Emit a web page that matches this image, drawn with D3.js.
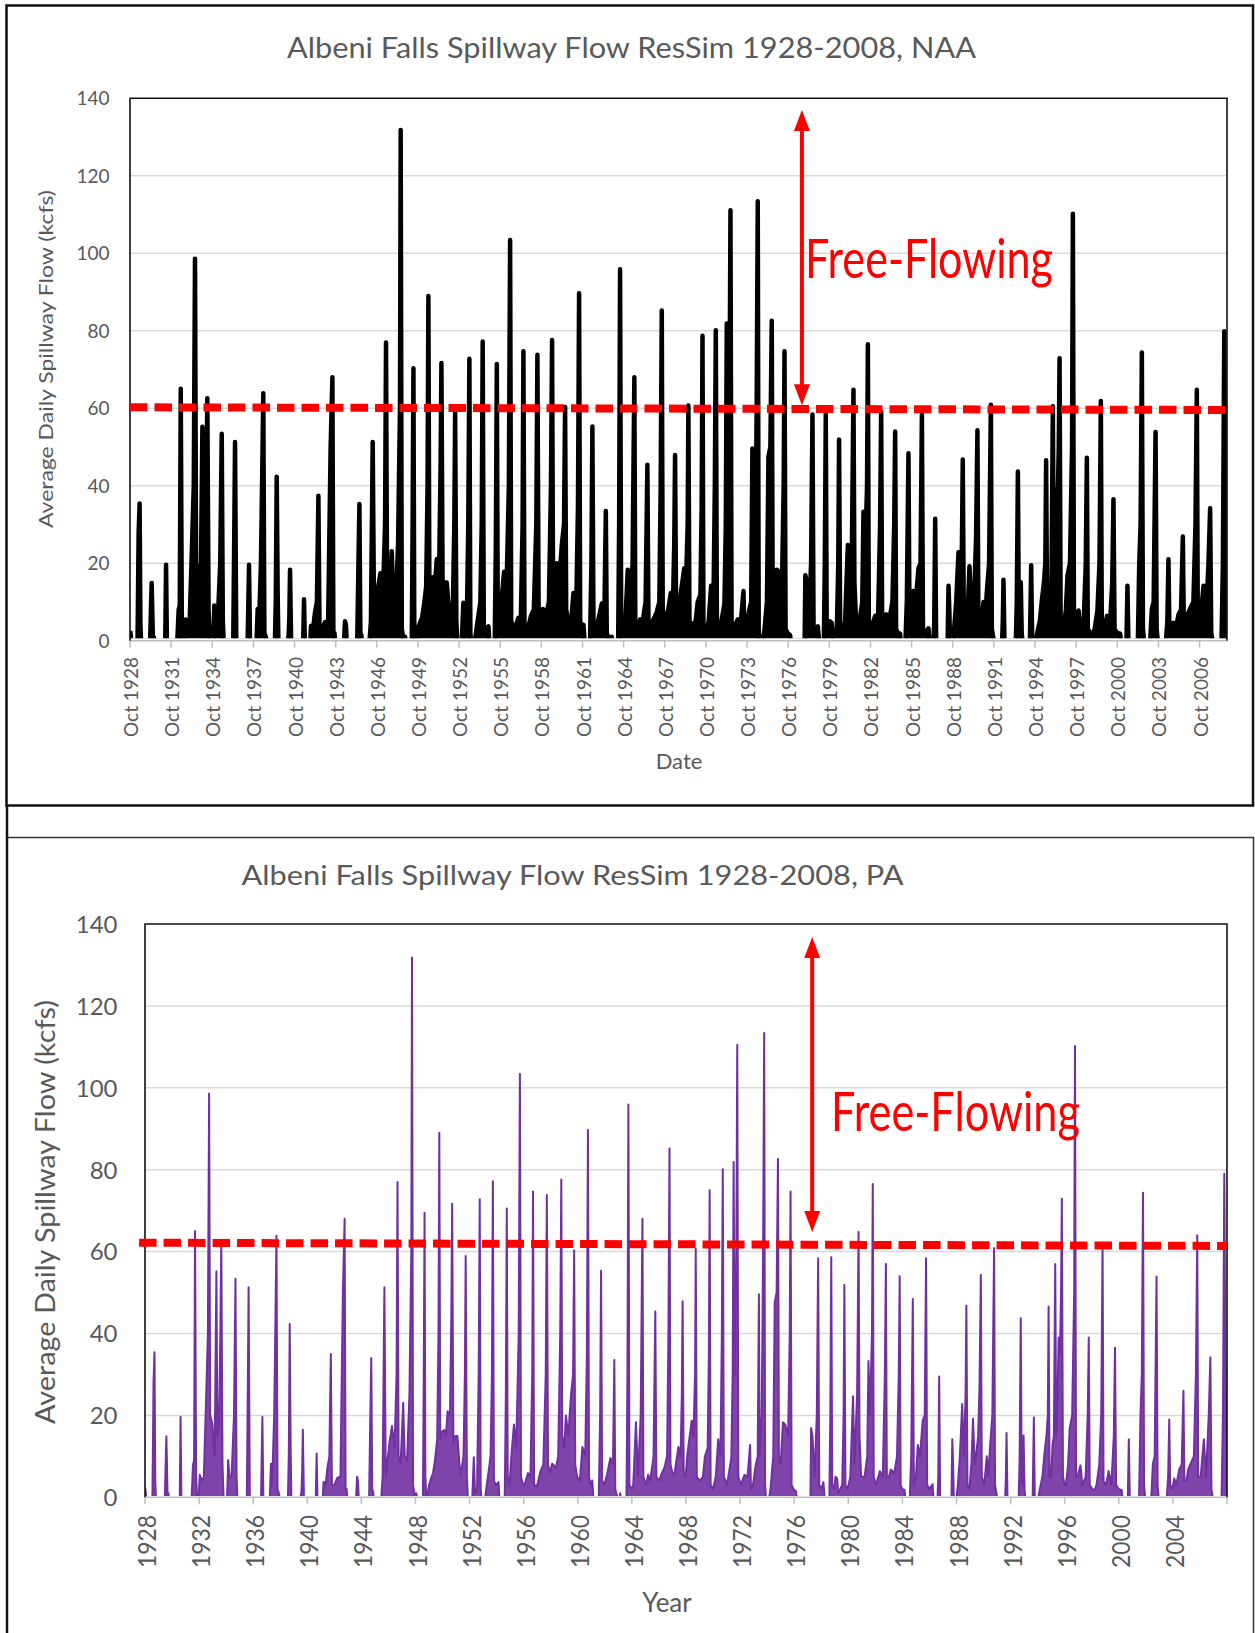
<!DOCTYPE html>
<html><head><meta charset="utf-8">
<script src="https://cdn.jsdelivr.net/npm/d3@7"></script>
<style>
body{margin:0;background:#fff}
svg{display:block}
text{font-family:Lato,"Open Sans",sans-serif}
</style>
</head><body>
<svg id="c" width="1255" height="1633"></svg>
<script>
// ---------------- DATA (year as decimal, flow in kcfs) ----------------
const naaA = [[1928.75,2.5],[1928.8,1.5],[1928.84,0],
[1929.3,0],[1929.38,28],[1929.45,35.4],[1929.51,4],[1929.56,0],
[1930.22,0],[1930.29,10],[1930.33,14.9],[1930.38,7],[1930.42,0],[1930.48,1],[1930.52,0],
[1931.32,0],[1931.38,19.6],[1931.44,0],
[1932.2,0],[1932.3,8],[1932.38,9],[1932.45,65],[1932.53,5],[1932.6,0],
[1932.72,0],[1932.8,5.5],[1932.95,4],[1933.1,5],[1933.25,22],[1933.4,40],[1933.49,98.6],[1933.57,20],[1933.73,18],[1933.9,10],[1934.03,55.2],[1934.1,15],[1934.22,18],[1934.32,40],[1934.39,62.6],[1934.48,8],[1934.56,0],
[1934.82,0],[1934.9,9.1],[1935.0,5],[1935.15,5],[1935.33,20],[1935.44,53.4],[1935.52,5],[1935.58,0],
[1936.28,0],[1936.36,30],[1936.41,51.3],[1936.5,0],
[1937.33,0],[1937.43,19.6],[1937.5,0],
[1937.98,0],[1938.06,8.2],[1938.15,3],[1938.3,20],[1938.4,45],[1938.47,63.9],[1938.55,2],[1938.65,1],[1938.7,0],
[1939.32,0],[1939.38,10],[1939.45,42.3],[1939.52,12],[1939.57,0],
[1940.25,0],[1940.32,1.5],[1940.37,6],[1940.42,18.3],[1940.5,0]];

const naaB = [[1941.38,0],[1941.44,10.7],[1941.5,0],
[1941.9,0],[1941.95,3.8],[1942.1,3],[1942.24,7.3],[1942.38,10],[1942.49,37.4],[1942.57,3],[1942.75,3],[1942.97,4.8],[1943.2,5],[1943.38,49.8],[1943.51,68],[1943.58,2],[1943.66,2],[1943.7,0],
[1944.36,0],[1944.43,5],[1944.5,4],[1944.55,0],
[1945.32,0],[1945.4,17.8],[1945.48,35.3],[1945.55,2],[1945.62,1.4],[1945.66,0],
[1946.22,0],[1946.32,5],[1946.45,51.3],[1946.55,5],[1946.82,13.2],[1947.01,17.4],[1947.2,12],[1947.35,30],[1947.42,77],[1947.5,10],[1947.65,8],[1947.84,23.1],[1947.95,10],[1948.13,9.1],[1948.3,25],[1948.44,60],[1948.49,131.8],[1948.57,3],[1948.65,1.4],[1948.72,0],
[1948.78,0],[1948.81,1],[1948.86,0],
[1949.3,0],[1949.36,30],[1949.42,70.3],[1949.48,5],[1949.55,0],
[1949.62,0],[1949.75,3],[1949.9,4.6],[1950.05,6],[1950.19,9.1],[1950.35,14],[1950.45,40],[1950.51,89],[1950.58,14],[1950.7,16],[1950.87,16.4],[1951.0,15],[1951.12,21],[1951.3,20],[1951.4,45],[1951.46,71.7],[1951.55,13],[1951.7,15],[1951.85,15],[1952.0,8],[1952.09,5.5],[1952.3,10],[1952.4,30],[1952.46,58.9],[1952.55,5],[1952.62,0]];

const naaC = [[1952.95,0],[1953.06,9.8],[1953.15,1],[1953.3,2],[1953.42,30],[1953.5,72.8],[1953.57,2],[1953.62,0],
[1953.9,0],[1954.1,5],[1954.16,6.4],[1954.3,10],[1954.4,30],[1954.47,77.2],[1954.55,4],[1954.7,3],[1954.89,3.7],[1954.95,0],
[1955.35,0],[1955.43,25],[1955.5,71.4],[1955.57,5],[1955.7,3],[1955.86,11],[1956.03,17.8],[1956.2,12],[1956.38,40],[1956.47,103.4],[1956.55,5],[1956.7,3],[1956.82,3.2],[1957.07,5.9],[1957.25,5],[1957.38,30],[1957.44,74.7],[1957.52,3],[1957.74,2.7],[1957.99,6.4],[1958.2,8],[1958.38,30],[1958.46,73.8],[1958.55,8],[1958.7,6],[1958.85,8.2],[1959.14,7.3],[1959.3,10],[1959.45,40],[1959.53,77.6],[1959.6,15],[1959.75,12],[1959.87,20],[1960.05,15],[1960.24,24.7],[1960.4,30],[1960.48,60.3],[1960.56,8],[1960.7,5],[1960.9,4],[1961.09,12.3],[1961.3,10],[1961.42,35],[1961.5,89.7],[1961.58,5],[1961.7,3],[1961.82,4.1],[1961.9,0],
[1962.3,0],[1962.4,20],[1962.47,55.3],[1962.55,4],[1962.7,3],[1962.91,5.5],[1963.16,9.6],[1963.35,8],[1963.45,33.5],[1963.52,2],[1963.6,1],[1963.7,0],
[1963.85,0],[1963.88,1],[1963.92,0],
[1964.35,0],[1964.42,30],[1964.49,95.9],[1964.57,3],[1964.7,2]];

const naaD = [[1964.85,3],[1965.05,18.3],[1965.2,5],[1965.4,20],[1965.53,68],[1965.6,5],[1965.8,3],[1965.95,5.5],[1966.1,4],[1966.35,10],[1966.48,45.4],[1966.56,5],[1966.75,4],[1966.92,5.5],[1967.16,7.3],[1967.35,10],[1967.45,40],[1967.53,85.2],[1967.6,8],[1967.75,6],[1967.89,5.5],[1968.19,12.3],[1968.35,10],[1968.44,25],[1968.5,47.9],[1968.58,6],[1968.72,5],[1968.87,11],[1969.17,18.7],[1969.3,15],[1969.42,30],[1969.47,60.7],[1969.55,5],[1969.75,4],[1970.0,5],[1970.15,10],[1970.35,12],[1970.44,35],[1970.5,78.7],[1970.57,3],[1970.75,2],[1970.95,5],[1971.13,14.2],[1971.3,10],[1971.4,40],[1971.47,80.1],[1971.55,5],[1971.79,3.2],[1972.1,9.6],[1972.2,30],[1972.27,81.9],[1972.35,30],[1972.47,60],[1972.54,111.1],[1972.62,5],[1972.8,3],[1973.07,5.5],[1973.3,5],[1973.49,12.8],[1973.55,2],[1973.7,3],[1973.9,7.8],[1974.05,10],[1974.14,49.6],[1974.2,10],[1974.35,20],[1974.45,60],[1974.53,113.4],[1974.6,3],[1974.66,0],
[1974.9,0],[1975.0,2],[1975.2,10],[1975.31,47.5],[1975.45,50],[1975.55,82.6],[1975.62,10],[1975.75,8],[1975.92,18.3],[1976.09,17.8],[1976.3,15],[1976.42,40],[1976.48,74.7],[1976.56,3],[1976.7,2],[1976.89,1.4],[1976.93,0]];

const naaE = [[1977.95,0],[1978.0,16.9],[1978.1,15],[1978.25,5],[1978.42,20],[1978.52,58.4],[1978.6,3],[1978.75,2],[1978.91,3.7],[1979.0,0],
[1979.35,0],[1979.42,20],[1979.49,58.6],[1979.56,3],[1979.7,2],[1979.8,5],[1979.93,4.6],[1980.0,1],[1980.3,3],[1980.4,20],[1980.46,51.9],[1980.54,3],[1980.7,2],[1980.9,5],[1981.1,24.7],[1981.2,8],[1981.4,25],[1981.51,64.8],[1981.58,15],[1981.7,5],[1981.95,5],[1982.15,10],[1982.24,33.3],[1982.35,20],[1982.5,40],[1982.56,76.5],[1982.63,5],[1982.8,3],[1983.09,6.4],[1983.3,5],[1983.45,30],[1983.53,59.1],[1983.6,5],[1983.75,5],[1983.9,6.8],[1984.15,5.9],[1984.35,10],[1984.48,30],[1984.55,54],[1984.62,3],[1984.75,2],[1984.91,1.8],[1984.96,0],
[1985.3,0],[1985.4,10],[1985.52,48.4],[1985.6,3],[1985.75,5],[1985.89,12.8],[1986.05,10],[1986.25,18.7],[1986.4,20],[1986.5,58.4],[1986.58,3],[1986.75,2],[1986.98,3.2],[1987.05,0],
[1987.35,0],[1987.4,5],[1987.47,31.5],[1987.54,0],
[1988.38,0],[1988.44,14.2],[1988.5,8],[1988.55,0],
[1988.75,0],[1988.85,3],[1989.0,10],[1989.17,22.8],[1989.3,10],[1989.42,25],[1989.48,46.8],[1989.56,3],[1989.7,2],[1989.85,8],[1989.97,19.2],[1990.1,8],[1990.21,10.5],[1990.35,15],[1990.45,26.9],[1990.55,54.3],[1990.62,5],[1990.8,3],[1990.99,10],[1991.1,5],[1991.23,12.3],[1991.4,20],[1991.53,60.9],[1991.6,3],[1991.7,1],[1991.75,0]];

const naaF = [[1992.35,0],[1992.4,5],[1992.45,15.7],[1992.52,0],
[1993.35,0],[1993.42,10],[1993.5,43.7],[1993.57,5],[1993.65,3],[1993.71,15.1],[1993.78,2],[1993.83,0],
[1994.38,0],[1994.47,19.5],[1994.54,0],
[1994.8,0],[1994.93,2.3],[1995.1,5],[1995.25,10.5],[1995.4,15],[1995.5,20],[1995.56,46.6],[1995.63,5],[1995.75,5],[1995.85,12.8],[1995.95,15],[1996.05,60.5],[1996.12,15],[1996.2,20],[1996.3,39],[1996.4,35],[1996.48,50],[1996.54,72.9],[1996.62,5],[1996.75,3],[1996.83,2.7],[1997.0,8],[1997.12,16.9],[1997.3,20],[1997.45,50],[1997.51,110.2],[1997.59,5],[1997.7,5],[1997.92,7.8],[1998.05,3],[1998.3,5],[1998.45,20],[1998.53,47.2],[1998.6,3],[1998.8,2],[1998.97,1.8],[1999.1,3],[1999.3,7.8],[1999.45,20],[1999.55,61.9],[1999.62,4],[1999.8,3],[2000.0,6.4],[2000.2,3],[2000.38,15],[2000.47,36.5],[2000.55,3],[2000.75,2],[2000.96,1.8],[2001.02,0],
[2001.42,0],[2001.49,14.2],[2001.56,0],
[2002.25,0],[2002.35,20],[2002.45,30],[2002.54,74.4],[2002.62,3],[2002.7,0],
[2003.15,0],[2003.27,8.2],[2003.4,10],[2003.54,53.9],[2003.62,3],[2003.7,0],
[2004.3,0],[2004.4,5],[2004.48,21],[2004.55,3],[2004.7,2],[2004.85,4.6],[2005.0,3],[2005.22,6.8],[2005.4,8],[2005.53,26.9],[2005.6,4],[2005.75,4],[2005.88,6.8],[2006.12,8.7],[2006.3,10],[2006.45,30],[2006.55,64.8],[2006.62,5],[2006.8,5],[2007.04,14.2],[2007.2,5],[2007.4,20],[2007.52,34.2],[2007.6,2],[2007.7,0],
[2008.35,0],[2008.45,20],[2008.55,79.9],[2008.62,40],[2008.75,0]];

const naaSeries = [naaA, naaB, naaC, naaD, naaE, naaF];

const paPeakEdits = [[1940.42,16.5],[1942.49,35],[1945.48,34],[1949.42,69.5],[1955.5,70.5],
  [1970.5,75],[1972.54,110.5],[1983.53,57],[1987.47,29.5],[1996.05,57],[1998.53,39],
  [2004.48,19],[2005.53,26],[2006.55,64],[2008.55,79]];
const paSeries = naaSeries.map(arr => arr.map(([yr, v]) => {
  const e = paPeakEdits.find(p => Math.abs(p[0] - yr) < 0.001);
  return [yr, e ? e[1] : v];
}));

const topTickLabels = d3.range(1928, 2007, 3).map(y => "Oct " + y);
const bottomTickLabels = d3.range(1928, 2005, 4).map(String);
const yTicks = [0, 20, 40, 60, 80, 100, 120, 140];
const topThreshold = [[1928.75, 60.25], [2008.75, 59.55]];
const bottomThreshold = [[1928.31, 62.17], [2008.75, 61.38]];
const topArrow = {year: 1977.75, from: 60.8, to: 137};
const bottomArrow = {year: 1978.08, from: 64.8, to: 136.8};

// ---------------- DRAW ----------------
const svg = d3.select("#c");
const GRAY = "#595959";

// outer frames
svg.append("rect").attr("x", 6.5).attr("y", 5.5).attr("width", 1246.5).attr("height", 800)
  .attr("fill", "none").attr("stroke", "#111").attr("stroke-width", 2.5);
svg.append("line").attr("x1", 7).attr("x2", 7).attr("y1", 805).attr("y2", 1633)
  .attr("stroke", "#111").attr("stroke-width", 2.5);
svg.append("path").attr("d", "M7,837.5H1253.5V1633")
  .attr("fill", "none").attr("stroke", "#333").attr("stroke-width", 1.5);

function drawChart(cfg) {
  const g = svg.append("g");
  const x = d3.scaleLinear().domain([1928.75, 2008.75]).range([cfg.left, cfg.right]);
  const y = d3.scaleLinear().domain([0, 140]).range([cfg.bottom, cfg.top]);

  // gridlines
  g.selectAll(".grid").data(yTicks.filter(v => v > 0 && v < 140)).join("line")
    .attr("x1", cfg.left).attr("x2", cfg.right)
    .attr("y1", d => y(d)).attr("y2", d => y(d))
    .attr("stroke", "#d9d9d9").attr("stroke-width", 1.5);

  // x axis line and ticks
  const tickYears = cfg.tickLabels.map((_, i) => 1928.75 + i * cfg.step);
  const allTicks = d3.range(1928.75, 2008.76, cfg.step);
  g.append("line").attr("x1", cfg.left).attr("x2", cfg.right)
    .attr("y1", cfg.bottom).attr("y2", cfg.bottom)
    .attr("stroke", "#bfbfbf").attr("stroke-width", 1.5);
  g.selectAll(".tk").data(allTicks).join("line")
    .attr("x1", d => x(d)).attr("x2", d => x(d))
    .attr("y1", cfg.bottom).attr("y2", cfg.bottom + 7)
    .attr("stroke", "#bfbfbf").attr("stroke-width", 1.5);

  // data
  const clipId = "clip" + cfg.id;
  svg.append("clipPath").attr("id", clipId).append("rect")
    .attr("x", cfg.left).attr("y", cfg.top)
    .attr("width", cfg.right - cfg.left).attr("height", cfg.bottom - cfg.top - cfg.sw / 2 - 0.3);
  const data = cfg.series.flat();
  const dg = g.append("g").attr("clip-path", `url(#${clipId})`);
  dg.append("path").datum(data)
    .attr("d", d3.area().x(d => x(d[0])).y0(cfg.bottom).y1(d => y(d[1])))
    .attr("fill", cfg.color).attr("fill-opacity", cfg.fillOpacity);
  dg.append("path").datum(data)
    .attr("d", d3.line().x(d => x(d[0])).y(d => y(d[1])))
    .attr("fill", "none").attr("stroke", cfg.color).attr("stroke-width", cfg.sw)
    .attr("stroke-linejoin", "round");

  // plot border
  g.append("path")
    .attr("d", `M${cfg.left},${cfg.bottom}V${cfg.top}H${cfg.right}V${cfg.bottom}`)
    .attr("fill", "none").attr("stroke", "#111").attr("stroke-width", 1.6);

  // y tick labels
  g.selectAll(".yl").data(yTicks).join("text")
    .attr("x", cfg.yLabelX).attr("y", d => y(d) + cfg.yFs * 0.37)
    .attr("text-anchor", "end").attr("font-size", cfg.yFs).attr("fill", GRAY)
    .text(d => d);

  // x tick labels
  g.selectAll(".xl").data(cfg.tickLabels).join("text")
    .attr("transform", (d, i) => `translate(${x(tickYears[i]) + cfg.xLabOff},${cfg.xLabTop}) rotate(-90)`)
    .attr("text-anchor", "end").attr("font-size", cfg.xFs).attr("fill", GRAY)
    .attr("textLength", cfg.xLabLen).attr("lengthAdjust", "spacingAndGlyphs")
    .text(d => d);

  // titles
  g.append("text").attr("x", cfg.titleX).attr("y", cfg.titleY)
    .attr("text-anchor", "middle").attr("font-size", cfg.titleFs).attr("fill", GRAY)
    .attr("textLength", cfg.titleLen).attr("lengthAdjust", "spacingAndGlyphs")
    .text(cfg.title);
  g.append("text").attr("transform", `translate(${cfg.yTitleX},${cfg.yTitleY}) rotate(-90)`)
    .attr("text-anchor", "middle").attr("font-size", cfg.yTitleFs).attr("fill", GRAY)
    .attr("textLength", cfg.yTitleLen).attr("lengthAdjust", "spacingAndGlyphs")
    .text("Average Daily Spillway Flow (kcfs)");
  g.append("text").attr("x", cfg.xTitleX).attr("y", cfg.xTitleY)
    .attr("text-anchor", "middle").attr("font-size", cfg.xTitleFs).attr("fill", GRAY)
    .text(cfg.xTitle);

  // threshold dashed line
  g.append("line")
    .attr("x1", x(cfg.threshold[0][0])).attr("y1", y(cfg.threshold[0][1]))
    .attr("x2", x(cfg.threshold[1][0])).attr("y2", y(cfg.threshold[1][1]))
    .attr("stroke", "#ff0000").attr("stroke-width", 8).attr("stroke-dasharray", "17.5 7");

  // double arrow
  const ax = x(cfg.arrow.year), ay1 = y(cfg.arrow.to), ay2 = y(cfg.arrow.from);
  const hw = 8, hh = 21;
  g.append("line").attr("x1", ax).attr("x2", ax).attr("y1", ay1 + hh - 2).attr("y2", ay2 - hh + 2)
    .attr("stroke", "#ff0000").attr("stroke-width", 4);
  g.append("path").attr("d", `M${ax},${ay1}L${ax - hw},${ay1 + hh}L${ax + hw},${ay1 + hh}Z`).attr("fill", "#ff0000");
  g.append("path").attr("d", `M${ax},${ay2}L${ax - hw},${ay2 - hh}L${ax + hw},${ay2 - hh}Z`).attr("fill", "#ff0000");

  // annotation text
  g.append("text").attr("x", cfg.ffX).attr("y", cfg.ffY)
    .attr("font-size", 55).attr("fill", "#ff0000")
    .attr("textLength", cfg.ffLen).attr("lengthAdjust", "spacingAndGlyphs")
    .text("Free-Flowing");
}

drawChart({
  id: "top", left: 130, right: 1227, top: 98.3, bottom: 640.7,
  series: naaSeries, color: "#000000", sw: 4.5, fillOpacity: 1,
  tickLabels: topTickLabels, step: 3, xLabOff: 8, xLabTop: 657, xFs: 20, xLabLen: 80,
  yFs: 19, yLabelX: 109.5,
  title: "Albeni Falls Spillway Flow ResSim 1928-2008, NAA", titleX: 631.5, titleY: 58, titleFs: 29, titleLen: 689,
  yTitleX: 53, yTitleY: 359, yTitleFs: 20, yTitleLen: 338,
  xTitle: "Date", xTitleX: 679, xTitleY: 769, xTitleFs: 22,
  threshold: topThreshold, arrow: topArrow,
  ffX: 805, ffY: 278, ffLen: 248
});

drawChart({
  id: "bot", left: 145, right: 1227, top: 924, bottom: 1497.3,
  series: paSeries, color: "#7030a0", sw: 2, fillOpacity: 0.9,
  tickLabels: bottomTickLabels, step: 4, xLabOff: 11, xLabTop: 1515, xFs: 25, xLabLen: 53,
  yFs: 24, yLabelX: 117.5,
  title: "Albeni Falls Spillway Flow ResSim 1928-2008, PA", titleX: 572.5, titleY: 885, titleFs: 27, titleLen: 662,
  yTitleX: 55, yTitleY: 1212, yTitleFs: 26, yTitleLen: 424,
  xTitle: "Year", xTitleX: 667, xTitleY: 1612, xTitleFs: 26,
  threshold: bottomThreshold, arrow: bottomArrow,
  ffX: 831, ffY: 1130.5, ffLen: 249
});
</script>
</body></html>
